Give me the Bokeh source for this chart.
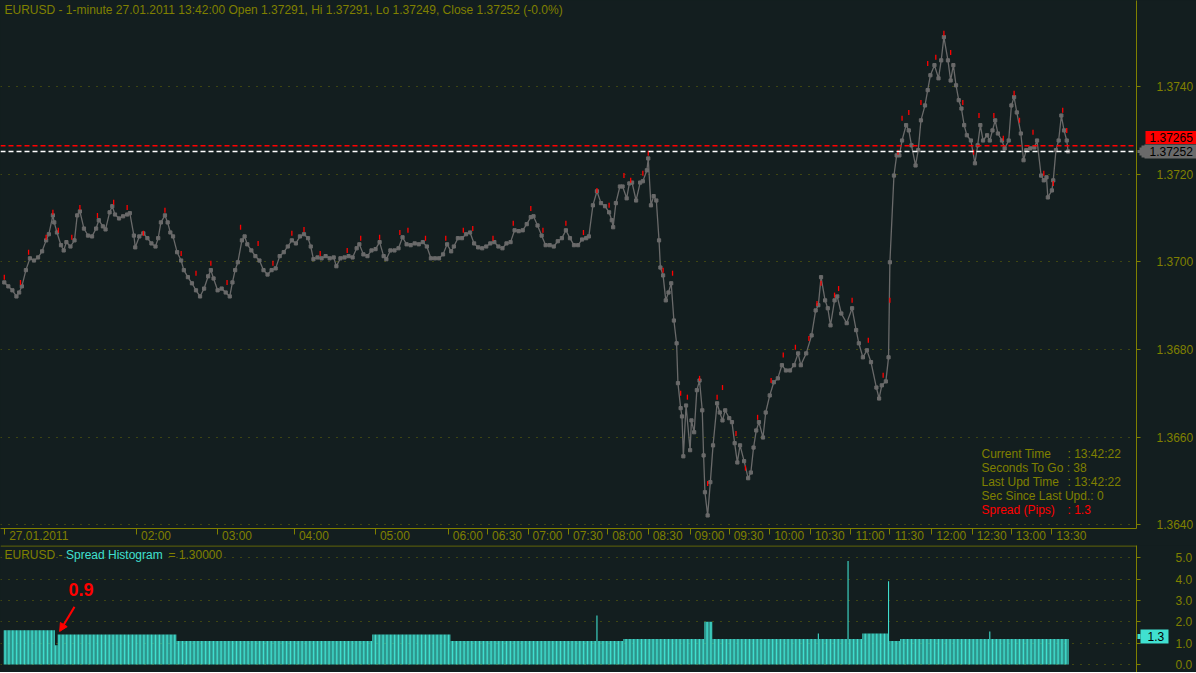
import numpy as np
from bokeh.plotting import figure
from bokeh.layouts import column
from bokeh.models import (Range1d, FixedTicker, PrintfTickFormatter, Span, Label,
                          Arrow, NormalHead, LinearAxis)
from bokeh.embed import file_html
from bokeh.resources import INLINE

# ---------------- data ----------------
bar = [0, 3, 6, 9, 11, 13, 16, 19, 22, 25, 28, 31, 33, 36, 37, 39, 42, 44, 46, 49,
       52, 54, 56, 59, 62, 65, 68, 70, 73, 75, 78, 80, 82, 85, 88, 91, 93, 96, 97, 100,
       103, 106, 109, 112, 114, 116, 119, 121, 123, 125, 128, 131, 133, 136, 139, 142, 145, 148, 151, 153,
       155, 158, 161, 164, 167, 169, 171, 173, 176, 178, 180, 183, 186, 189, 192, 195, 198, 201, 204, 207,
       210, 213, 216, 219, 222, 225, 227, 229, 232, 235, 238, 241, 244, 246, 249, 252, 255, 258, 261, 263,
       266, 269, 272, 275, 278, 281, 283, 286, 289, 292, 295, 298, 301, 304, 307, 310, 313, 316, 319, 322,
       325, 328, 331, 333, 336, 339, 342, 345, 348, 351, 354, 357, 360, 363, 366, 369, 372, 375, 378, 381,
       384, 387, 390, 392, 395, 398, 401, 404, 407, 410, 413, 416, 419, 422, 425, 428, 431, 433, 436, 439,
       442, 445, 448, 450, 451, 453, 456, 458, 461, 463, 465, 468, 471, 473, 476, 477, 479, 481, 483, 485,
       486, 488, 490, 492, 494, 496, 498, 499, 501, 502, 503, 505, 508, 509, 511, 513, 515, 517, 518, 519,
       521, 523, 525, 528, 530, 532, 534, 537, 539, 541, 543, 545, 548, 551, 553, 555, 557, 559, 562, 564,
       567, 570, 573, 576, 579, 582, 585, 588, 590, 594, 598, 601, 603, 605, 608, 610, 612, 615, 617, 620,
       624, 628, 631, 633, 636, 639, 642, 646, 648, 650, 653, 655, 656, 659, 661, 663, 665, 668, 670, 672,
       675, 677, 679, 682, 684, 686, 689, 692, 694, 696, 699, 701, 703, 705, 707, 709, 711, 713, 716, 719,
       721, 723, 725, 728, 730, 732, 734, 736, 739, 741, 744, 746, 748, 750, 753, 755, 757, 760, 763, 765,
       768, 770, 772, 773, 776, 777, 779, 781, 783, 785, 787, 788]

close = [1.36953, 1.36944, 1.36935, 1.36921, 1.36930, 1.36944, 1.36981, 1.37008, 1.37003, 1.37010,
         1.37024, 1.37049, 1.37063, 1.37106, 1.37090, 1.37067, 1.37038, 1.37026, 1.37045, 1.37035,
         1.37049, 1.37106, 1.37115, 1.37076, 1.37060, 1.37058, 1.37076, 1.37095, 1.37081, 1.37074,
         1.37113, 1.37127, 1.37108, 1.37099, 1.37104, 1.37108, 1.37111, 1.37060, 1.37033, 1.37058,
         1.37065, 1.37054, 1.37042, 1.37035, 1.37054, 1.37090, 1.37106, 1.37090, 1.37067, 1.37058,
         1.37022, 1.37003, 1.36981, 1.36965, 1.36951, 1.36935, 1.36921, 1.36939, 1.36967, 1.36981,
         1.36962, 1.36935, 1.36939, 1.36930, 1.36921, 1.36953, 1.36981, 1.36999, 1.37049, 1.37058,
         1.37040, 1.37026, 1.37013, 1.37003, 1.36981, 1.36971, 1.36981, 1.36985, 1.37013, 1.37022,
         1.37035, 1.37049, 1.37042, 1.37058, 1.37063, 1.37054, 1.37035, 1.37006, 1.37010, 1.37008,
         1.37013, 1.37008, 1.37010, 1.36990, 1.37008, 1.37010, 1.37013, 1.37010, 1.37031, 1.37040,
         1.37017, 1.37013, 1.37026, 1.37029, 1.37045, 1.37013, 1.37006, 1.37026, 1.37026, 1.37031,
         1.37056, 1.37040, 1.37038, 1.37042, 1.37040, 1.37045, 1.37035, 1.37008, 1.37008, 1.37008,
         1.37017, 1.37040, 1.37024, 1.37035, 1.37054, 1.37054, 1.37063, 1.37067, 1.37042, 1.37033,
         1.37031, 1.37035, 1.37042, 1.37045, 1.37035, 1.37031, 1.37042, 1.37045, 1.37072, 1.37070,
         1.37072, 1.37086, 1.37102, 1.37104, 1.37083, 1.37060, 1.37038, 1.37038, 1.37035, 1.37047,
         1.37054, 1.37072, 1.37054, 1.37038, 1.37038, 1.37051, 1.37054, 1.37058, 1.37129, 1.37161,
         1.37134, 1.37127, 1.37113, 1.37095, 1.37079, 1.37134, 1.37172, 1.37172, 1.37145, 1.37179,
         1.37181, 1.37140, 1.37181, 1.37184, 1.37209, 1.37236, 1.37129, 1.37150, 1.37140, 1.37049,
         1.36987, 1.36969, 1.36912, 1.36930, 1.36951, 1.36866, 1.36814, 1.36723, 1.36666, 1.36647,
         1.36556, 1.36672, 1.36570, 1.36638, 1.36611, 1.36707, 1.36729, 1.36661, 1.36558, 1.36474,
         1.36421, 1.36497, 1.36581, 1.36677, 1.36656, 1.36638, 1.36661, 1.36643, 1.36634, 1.36586,
         1.36542, 1.36581, 1.36545, 1.36506, 1.36519, 1.36576, 1.36615, 1.36634, 1.36599, 1.36656,
         1.36695, 1.36725, 1.36734, 1.36764, 1.36752, 1.36752, 1.36764, 1.36791, 1.36764, 1.36791,
         1.36832, 1.36889, 1.36901, 1.36965, 1.36912, 1.36894, 1.36855, 1.36912, 1.36921, 1.36882,
         1.36860, 1.36894, 1.36844, 1.36814, 1.36782, 1.36798, 1.36771, 1.36713, 1.36688, 1.36718,
         1.36727, 1.36782, 1.36999, 1.37197, 1.37243, 1.37243, 1.37277, 1.37312, 1.37300, 1.37266,
         1.37220, 1.37255, 1.37323, 1.37357, 1.37392, 1.37426, 1.37449, 1.37419, 1.37460, 1.37513,
         1.37460, 1.37414, 1.37449, 1.37403, 1.37369, 1.37350, 1.37312, 1.37289, 1.37277, 1.37225,
         1.37266, 1.37312, 1.37277, 1.37289, 1.37277, 1.37300, 1.37323, 1.37293, 1.37277, 1.37259,
         1.37277, 1.37357, 1.37376, 1.37341, 1.37293, 1.37232, 1.37255, 1.37259, 1.37261, 1.37277,
         1.37197, 1.37186, 1.37193, 1.37147, 1.37163, 1.37186, 1.37255, 1.37277, 1.37334, 1.37300,
         1.37277, 1.37252]

ask_bar = [0, 12, 18, 31, 36, 40, 50, 56, 69, 81, 91, 103, 119, 131, 142, 153, 165, 175, 188, 199,
           213, 222, 234, 254, 264, 278, 293, 299, 312, 327, 340, 347, 362, 377, 390, 399, 416, 429, 439, 448,
           459, 464, 473, 477, 488, 495, 501, 506, 515, 521, 528, 532, 542, 549, 558, 568, 577, 586, 596, 602,
           605, 615, 618, 628, 640, 651, 656, 662, 665, 670, 679, 684, 690, 696, 701, 710, 718, 722, 733, 740,
           748, 752, 762, 770, 777, 784, 787]
ask_high = [1.36965, 1.36953, 1.37022, 1.37056, 1.37113, 1.37072, 1.37056, 1.37124, 1.37106, 1.37136,
            1.37124, 1.37065, 1.37118, 1.37019, 1.36974, 1.36997, 1.36953, 1.37079, 1.37042, 1.36997,
            1.37065, 1.37074, 1.37019, 1.37026, 1.37054, 1.37056, 1.37067, 1.37072, 1.37054, 1.37054,
            1.37072, 1.37076, 1.37054, 1.37088, 1.37122, 1.37072, 1.37088, 1.37067, 1.37163, 1.37129,
            1.37197, 1.37186, 1.37202, 1.37248, 1.36981, 1.36974, 1.36700, 1.36691, 1.36734, 1.36494,
            1.36691, 1.36713, 1.36608, 1.36529, 1.36645, 1.36729, 1.36787, 1.36805, 1.36825, 1.36905,
            1.36951, 1.36924, 1.36939, 1.36912, 1.36821, 1.36741, 1.36912, 1.37250, 1.37328, 1.37341,
            1.37364, 1.37453, 1.37467, 1.37522, 1.37478, 1.37364, 1.37250, 1.37334, 1.37334, 1.37282,
            1.37385, 1.37323, 1.37296, 1.37202, 1.37179, 1.37346, 1.37300]

# spread histogram, run-length: value holds from its start bar up to the next start bar
spread_start = [0, 38, 40, 128, 273, 331, 439, 440, 459, 519, 525, 603, 604, 625, 626, 636, 655, 656, 664, 730, 731]
spread_value = [1.6, 0.9, 1.4, 1.1, 1.4, 1.1, 2.3, 1.1, 1.2, 2.0, 1.2, 1.45, 1.2, 4.85, 1.2, 1.45, 3.9, 1.1, 1.2, 1.55, 1.2]
last_bar = 788

time_tick_bar = [0, 98, 158, 215, 275, 329, 358, 388, 418, 447, 477, 508, 537, 567, 597, 627, 656, 687, 717, 746, 776]
time_tick_label = ["27.01.2011", "02:00", "03:00", "04:00", "05:00", "06:00", "06:30", "07:00", "07:30",
                   "08:00", "08:30", "09:00", "09:30", "10:00", "10:30", "11:00", "11:30", "12:00",
                   "12:30", "13:00", "13:30"]
price_ticks = [1.3640, 1.3660, 1.3680, 1.3700, 1.3720, 1.3740]
spread_ticks = [0, 1, 2, 3, 4, 5]

bid_price = 1.37252
ask_price = 1.37265
current_spread = 1.3
low_spread_bar = 38
low_spread_text = "0.9"

title_text = "EURUSD - 1-minute 27.01.2011 13:42:00 Open 1.37291, Hi 1.37291, Lo 1.37249, Close 1.37252 (-0.0%)"
info_labels = ["Current Time", "Seconds To Go : 38", "Last Upd Time", "Sec Since Last Upd.: 0", "Spread (Pips)"]
info_values = [": 13:42:22", "", ": 13:42:22", "", ": 1.3"]

assert len(bar) == len(close)
assert len(ask_bar) == len(ask_high)

# expand spread runs to one value per bar
spread_bar = np.arange(0, last_bar + 1)
spread = np.repeat(spread_value, np.diff(spread_start + [last_bar + 1]))

# ---------------- styling ----------------
BG = "#131e1f"
OLIVE = "#808000"
GRAY = "#6a6a6a"
TURQ = "#40e0d0"
FONT = "Liberation Sans"
DIGIT_W, DOT_W = 6.674, 3.334   # 12px Liberation Sans advance widths (as drawn)
LAYOUT_K = 1.078                # the layout measures label widths a little wider than drawn


def text_w(t):
    return sum(DIGIT_W if ch.isdigit() else DOT_W for ch in t)


def bx(px):
    """reference pixel column -> bar position"""
    return (px - 3.8) / 1.35


def py(px):
    """reference pixel row -> price"""
    return 1.375966 - px * 0.00002283


def plain_axis(ax):
    ax.minor_tick_out = 0
    ax.minor_tick_in = 0
    ax.major_label_text_font = FONT
    ax.major_label_text_font_size = "12px"


def box_axis(fig, value, text, color, tick_in, tick_out, thick, standoff):
    """a right-side axis whose single thick tick forms a coloured tag box, text drawn on top"""
    ax = LinearAxis(ticker=FixedTicker(ticks=[value]), major_label_overrides={value: text})
    plain_axis(ax)
    ax.axis_line_color = None
    ax.major_tick_in = tick_in
    ax.major_tick_out = tick_out
    ax.major_tick_line_width = thick
    ax.major_tick_line_color = color
    ax.major_tick_line_cap = "butt"
    ax.major_label_standoff = standoff
    ax.major_label_text_color = "black"
    if text == "":
        ax.major_label_text_font_size = "0px"
    fig.add_layout(ax, "right")


p = figure(frame_width=1136, frame_height=528,
           x_range=Range1d(bx(0), bx(1136)), y_range=Range1d(py(528), py(0)),
           y_axis_location="right", output_backend="svg", toolbar_location=None,
           background_fill_color=BG, border_fill_color=BG,
           min_border_left=0, min_border_right=60, min_border_top=0, min_border_bottom=17)
p.outline_line_color = None

# time axis: tick marks on the first axis (6px tall panel), labels on a second one, placed just
# right of each tick and pulled up against the axis line
xa = p.xaxis[0]
plain_axis(xa)
xa.ticker = FixedTicker(ticks=time_tick_bar)
xa.major_label_overrides = {b: "" for b in time_tick_bar}
xa.major_label_text_font_size = "0px"
xa.major_label_standoff = 0
xa.major_tick_out = 6
xa.major_tick_in = 0
xa.axis_line_color = OLIVE
xa.major_tick_line_color = OLIVE

label_pos = [b + (4.4 + text_w(t) / 2) / 1.35 for b, t in zip(time_tick_bar, time_tick_label)]
xl = LinearAxis(ticker=FixedTicker(ticks=label_pos),
                major_label_overrides={lp: t for lp, t in zip(label_pos, time_tick_label)})
plain_axis(xl)
xl.axis_line_color = None
xl.major_tick_out = 0
xl.major_tick_in = 0
xl.major_label_standoff = -6
xl.major_label_text_color = OLIVE
p.add_layout(xl, "below")

PRICE_STANDOFF = 16
ya = p.yaxis[0]
plain_axis(ya)
ya.ticker = FixedTicker(ticks=price_ticks)
ya.formatter = PrintfTickFormatter(format="%.4f")
ya.major_label_text_color = OLIVE
ya.major_label_standoff = PRICE_STANDOFF
ya.major_tick_out = 4
ya.major_tick_in = 0
ya.axis_line_color = OLIVE
ya.major_tick_line_color = OLIVE

p.xgrid.visible = False
p.ygrid.ticker = FixedTicker(ticks=price_ticks)
p.ygrid.grid_line_color = OLIVE
p.ygrid.grid_line_alpha = 0.8
p.ygrid.grid_line_dash = "1 7"

# price series
p.line(bar, close, line_color=GRAY, line_width=1.3)
p.scatter(bar, close, marker="square", size=3.2, fill_color=GRAY, line_color=GRAY)
p.scatter(ask_bar, ask_high, marker="dash", angle=np.pi / 2, size=5, line_color="red", line_width=1.3)

# bid / ask lines
p.add_layout(Span(location=ask_price, dimension="width", line_color="red", line_dash="5 3", line_width=1.5))
p.add_layout(Span(location=bid_price, dimension="width", line_color="white", line_dash="5 3", line_width=1.5))

# price tags in the right margin, stacked just outside the price axis (x0 = its outer edge);
# each tag axis is given a net size of zero so they all share x0
x0 = 1136 + 4 + PRICE_STANDOFF + LAYOUT_K * text_w("1.3740")
tag_w = LAYOUT_K * text_w("1.37252")
tag_standoff = -round(3 + tag_w)
box_axis(p, bid_price, "", GRAY, round(x0 - 1137), 0, 3, 0)
box_axis(p, bid_price, "", GRAY, round(x0 - 1139), 0, 8, 0)
box_axis(p, bid_price, "", GRAY, round(x0 - 1141), 0, 12, 0)
box_axis(p, bid_price, "%.5f" % bid_price, GRAY, round(x0 - 1144), 3, 14, tag_standoff)
box_axis(p, py(136.5), "%.5f" % ask_price, "red", round(x0 - 1145), 3, 13, tag_standoff)

# title
p.add_layout(Label(x=bx(4), y=py(2), text=title_text, text_color=OLIVE, text_font=FONT,
                   text_font_size="12px", text_baseline="top"))

# info box
for i, (lt, vt) in enumerate(zip(info_labels, info_values)):
    col = "red" if lt.startswith("Spread") else OLIVE
    yy = py(453 + 14 * i)
    p.add_layout(Label(x=bx(981), y=yy, text=lt, text_color=col, text_font=FONT,
                       text_font_size="12px", text_baseline="middle"))
    if vt:
        p.add_layout(Label(x=bx(1067), y=yy, text=vt, text_color=col, text_font=FONT,
                           text_font_size="12px", text_baseline="middle"))

# ---------------- spread histogram ----------------
h = figure(frame_width=1136, frame_height=127, x_range=p.x_range, y_range=Range1d(-0.375, 5.576),
           y_axis_location="right", x_axis_location=None, output_backend="svg", toolbar_location=None,
           background_fill_color=BG, border_fill_color=BG,
           min_border_left=0, min_border_right=60, min_border_top=0, min_border_bottom=0)
h.outline_line_color = None
h.vbar(x=spread_bar, top=spread, bottom=0, width=0.8, fill_color=TURQ, line_color=None)

# right side: tick marks, then the current-spread tag, then the tick labels
ht = h.yaxis[0]
plain_axis(ht)
ht.ticker = FixedTicker(ticks=spread_ticks)
ht.major_label_overrides = {v: "" for v in spread_ticks}
ht.major_label_text_font_size = "0px"
ht.major_label_standoff = 0
ht.major_tick_out = 4
ht.major_tick_in = 0
ht.axis_line_color = OLIVE
ht.major_tick_line_color = OLIVE

box_axis(h, current_spread, "", TURQ, 3, 0, 5, 0)
box_axis(h, current_spread, "%.1f" % current_spread, TURQ, 0, 28, 14, -21)

hl = LinearAxis(ticker=FixedTicker(ticks=spread_ticks), formatter=PrintfTickFormatter(format="%.1f"))
plain_axis(hl)
hl.axis_line_color = None
hl.major_tick_out = 0
hl.major_tick_in = 0
hl.major_label_standoff = round(1172.7 - (1140 + 28 - 21 + LAYOUT_K * text_w("1.3")))
hl.major_label_text_color = OLIVE
h.add_layout(hl, "right")

h.xgrid.visible = False
h.ygrid.ticker = FixedTicker(ticks=spread_ticks)
h.ygrid.grid_line_color = OLIVE
h.ygrid.grid_line_alpha = 0.8
h.ygrid.grid_line_dash = "1 7"

h.add_layout(Span(location=5.555, dimension="width", line_color=OLIVE, line_width=1))

h.add_layout(Label(x=bx(4), y=5.15, text="EURUSD - ", text_color=OLIVE, text_font=FONT,
                   text_font_size="12px", text_baseline="middle"))
h.add_layout(Label(x=bx(65.5), y=5.15, text="Spread Histogram", text_color=TURQ, text_font=FONT,
                   text_font_size="12px", text_baseline="middle"))
h.add_layout(Label(x=bx(168), y=5.15, text="= %.5f" % current_spread, text_color=OLIVE, text_font=FONT,
                   text_font_size="12px", text_baseline="middle"))

# low-spread callout
h.add_layout(Label(x=low_spread_bar + 9.5, y=3.5, text=low_spread_text, text_color="red", text_font=FONT,
                   text_font_size="18px", text_font_style="bold", text_baseline="middle"))
h.add_layout(Arrow(x_start=low_spread_bar + 14, y_start=2.7, x_end=low_spread_bar + 3, y_end=1.55,
                   line_color="red", line_width=2,
                   end=NormalHead(size=8, fill_color="red", line_color="red")))

layout = column(p, h, spacing=0, styles={"background-color": BG})
open("out.html", "w").write(file_html(layout, INLINE))
